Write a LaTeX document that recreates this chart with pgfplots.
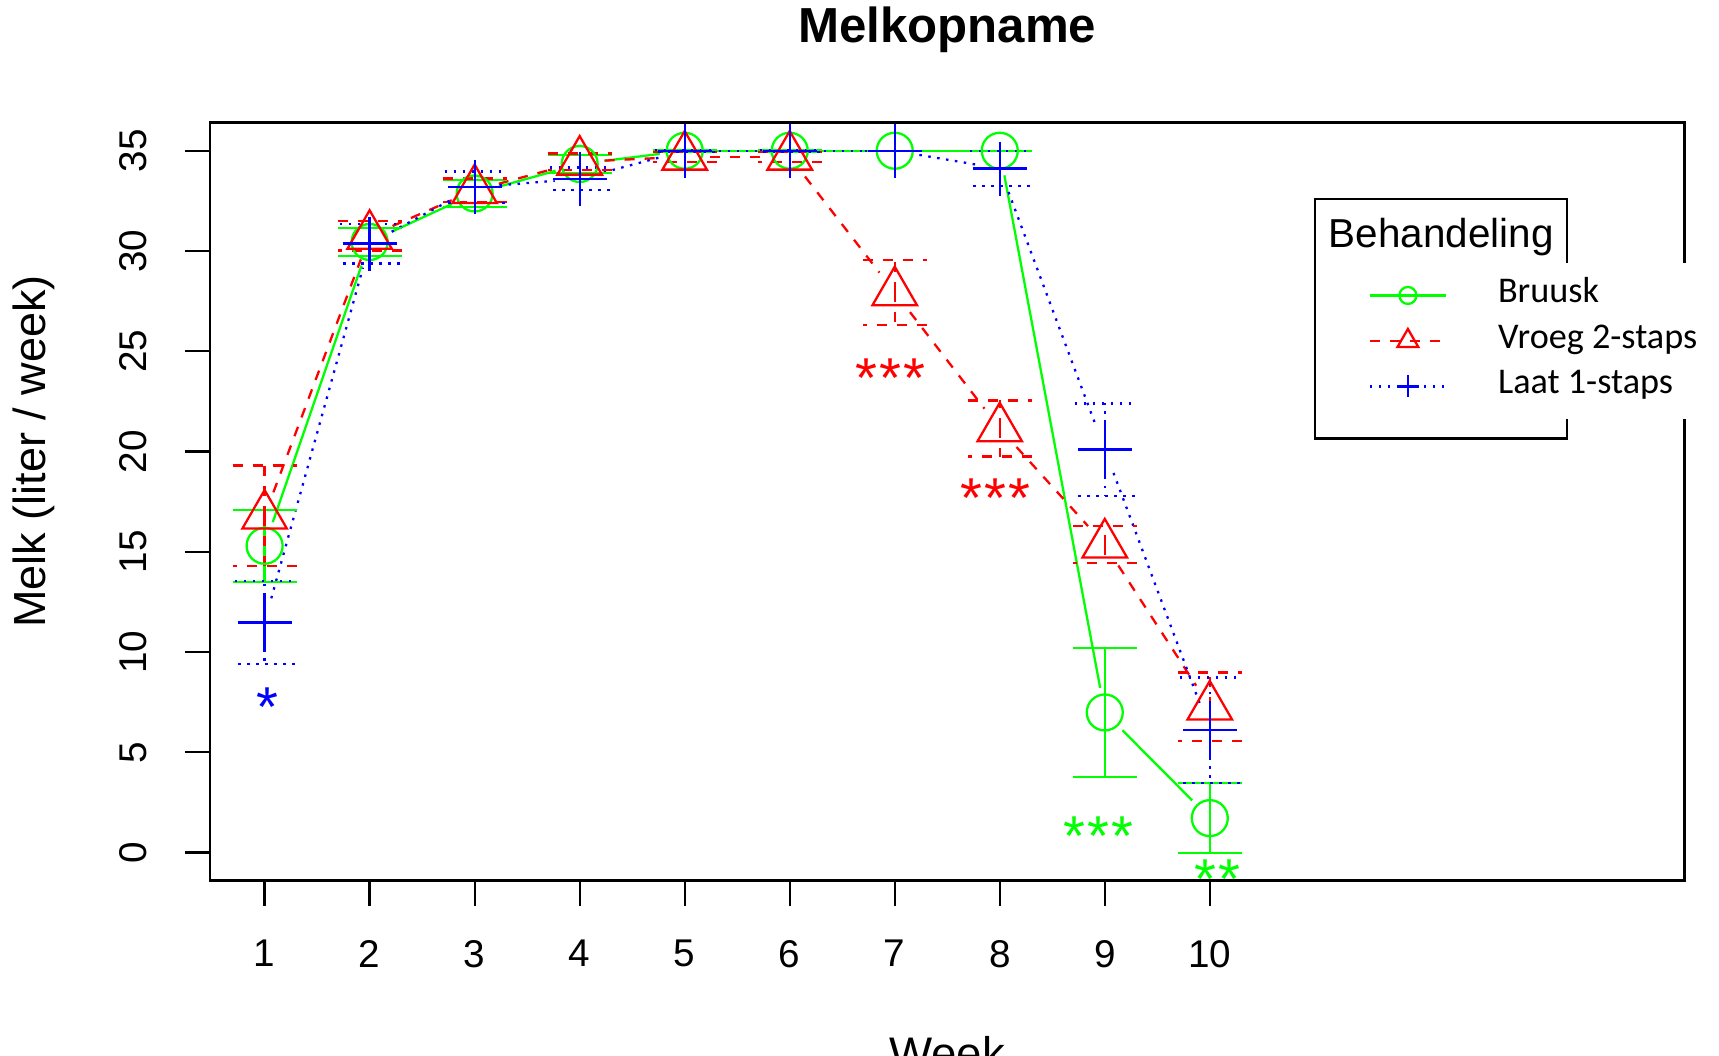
\documentclass[border=0pt]{standalone}
\usepackage{pgfplots}
\usepackage{pgfplotstable}
\usepackage{fontspec}
\pgfplotsset{compat=1.18}
\setmainfont{Liberation Sans}
\newfontfamily\carlito{Carlito}

\pgfplotstableread{
x y e
1 15.30 1.80
2 30.45 0.69
3 32.87 0.66
4 34.34 0.45
5 35.00 0.05
6 35.00 0.05
7 35.00 0.00
8 35.00 0.00
9 6.99 3.21
10 1.72 1.75
}\tblG
\pgfplotstableread{
x y e
1 16.80 2.50
2 30.75 0.73
3 33.03 0.59
4 34.45 0.42
5 34.70 0.25
6 34.70 0.25
7 27.94 1.62
8 21.15 1.40
9 15.36 0.93
10 7.28 1.70
}\tblR
\pgfplotstableread{
x y e
1 11.48 2.07
2 30.37 0.99
3 33.18 0.79
4 33.60 0.56
5 35.00 0.05
6 35.00 0.05
7 35.00 0.00
8 34.11 0.87
9 20.10 2.30
10 6.10 2.63
}\tblB

\tikzset{
 rdash/.style={dash pattern=on 1mm off 1mm},
 bdot/.style={dash pattern=on 0.25mm off 0.65mm},
 lw/.style={line width=0.65pt},
 stars/.style={anchor=base, font=\fontsize{16}{16}\selectfont},
}

\begin{document}
\begin{tikzpicture}
\path[use as bounding box] (0,0) rectangle (171.9mm,105.6mm);
\clip (0,0) rectangle (171.9mm,105.6mm);
\begin{axis}[
 at={(21.0mm,17.53mm)}, anchor=south west,
 width=147.45mm, height=75.8mm, scale only axis,
 xmin=0.48, xmax=14.52, ymin=-1.4, ymax=36.4,
 clip=false,
 axis line style={line width=0.7pt},
 xtick={1,2,3,4,5,6,7,8,9,10}, ytick={0,5,10,15,20,25,30,35},
 tick align=outside, major tick length=2.5mm,
 tick pos=left,
 tick style={line width=0.65pt, black},
 /pgf/number format/assume math mode=true,
 tick label style={font=\fontsize{11}{13}\selectfont},
 xticklabel style={anchor=north, inner sep=0pt, yshift=-3.4mm},
 yticklabel style={rotate=90, anchor=base, inner sep=0pt, yshift=3.85mm},
 title={Melkopname},
 title style={at={(rel axis cs:0.5,1)}, anchor=base, yshift=8.0mm-6pt, font=\bfseries\fontsize{14}{16}\selectfont},
 xlabel={Week},
 xlabel style={at={(rel axis cs:0.5,0)}, anchor=base, yshift=-18.9mm, font=\fontsize{13}{15}\selectfont},
 ylabel={Melk (liter / week)},
 ylabel style={at={(rel axis cs:-0.1119,0.5662)}, anchor=base, font=\fontsize{12.8}{15}\selectfont},
 legend image code/.code={\draw[mark repeat=2,mark phase=2,#1] plot coordinates {(0mm,0mm)(3.8mm,0mm)(7.6mm,0mm)};},
 legend cell align=left,
 legend style={at={(0.7664,0.8162)}, anchor=north west, draw=none, fill=white,
   inner xsep=2.8mm, inner ysep=1.0mm, column sep=5.1mm, row sep=0pt,
   font=\carlito\fontsize{10.3}{12}\selectfont,
   nodes={inner sep=0pt, text height=3.0mm, text depth=1.55mm}},
]
% connecting lines with gaps (type "b")
\pgfplotsinvokeforeach{1:2,2:3,3:4,4:5,5:6,6:7,7:8,8:9,9:10}{
 \addplot[forget plot, green, lw, no marks, shorten <=2.5mm, shorten >=2.5mm, restrict x to domain=#1] table[x=x,y=y]{\tblG};
 \addplot[forget plot, red, lw, rdash, no marks, shorten <=2.5mm, shorten >=2.5mm, restrict x to domain=#1] table[x=x,y=y]{\tblR};
 \addplot[forget plot, blue, lw, bdot, no marks, shorten <=2.5mm, shorten >=2.5mm, restrict x to domain=#1] table[x=x,y=y]{\tblB};
}
% points with error bars
\addplot[forget plot, green, lw, only marks, mark=o, mark size=1.8mm,
 error bars/.cd, y dir=both, y explicit,
 error bar style={lw, solid},
 error mark options={rotate=90, mark size=3.2mm, lw, solid}]
 table[x=x,y=y,y error=e]{\tblG};
\addplot[forget plot, red, lw, only marks, mark=triangle, mark size=2.57mm, mark options={solid},
 error bars/.cd, y dir=both, y explicit,
 error bar style={lw, rdash},
 error mark options={rotate=90, mark size=3.2mm, lw, rdash}]
 table[x=x,y=y,y error=e]{\tblR};
\addplot[forget plot, blue, lw, only marks, mark=+, mark size=2.7mm, mark options={solid},
 error bars/.cd, y dir=both, y explicit,
 error bar style={lw, bdot},
 error mark options={rotate=90, mark size=3.0mm, lw, bdot}]
 table[x=x,y=y,y error=e]{\tblB};

% significance stars
\node[red, stars] at (axis cs:6.956,22.69) {*\kern0.6pt*\kern0.6pt*};
\node[red, stars] at (axis cs:7.96,16.71) {*\kern0.6pt*\kern0.6pt*};
\node[green, stars] at (axis cs:8.94,-0.12) {*\kern0.6pt*\kern0.6pt*};
\node[green, stars] at (axis cs:10.07,-2.28) {*\kern0.6pt*};
\node[blue, stars] at (axis cs:1.03,6.29) {*};

% legend frame and title
\draw[line width=0.7pt, black] (axis cs:11.0,20.65) rectangle (axis cs:13.40,32.59);
\node[anchor=base west, inner sep=0pt, font=\fontsize{11.5}{13}\selectfont] at (axis cs:11.127,30.19) {Behandeling};

\addlegendimage{green, lw, mark=o, mark size=0.85mm}
\addlegendentry{Bruusk}
\addlegendimage{red, lw, rdash, mark=triangle, mark size=1.2mm, mark options={solid}}
\addlegendentry{Vroeg 2-staps}
\addlegendimage{blue, lw, bdot, mark=+, mark size=1.1mm, mark options={solid}}
\addlegendentry{Laat 1-staps}
\end{axis}
\end{tikzpicture}
\end{document}
